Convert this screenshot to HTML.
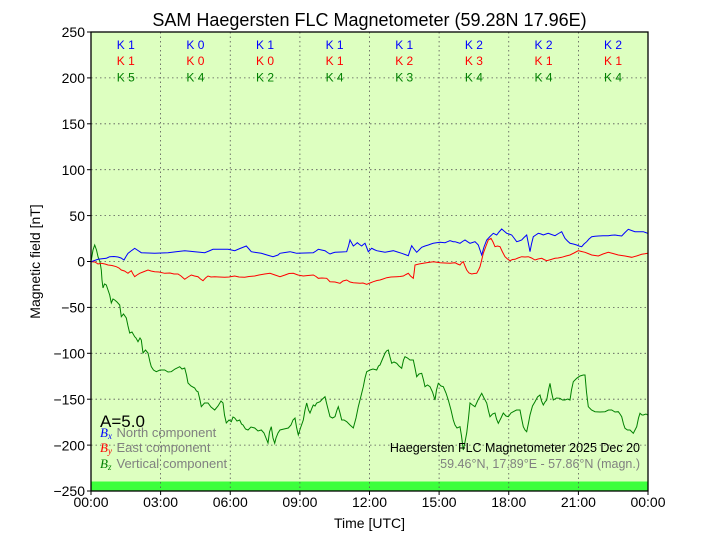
<!DOCTYPE html>
<html><head><meta charset="utf-8"><style>
html,body{margin:0;padding:0;background:#fff;}
svg{display:block;}
text{font-family:"Liberation Sans",Arial,sans-serif;}
</style></head><body>
<svg width="720" height="540" viewBox="0 0 720 540" xmlns="http://www.w3.org/2000/svg">
<rect x="0" y="0" width="720" height="540" fill="#fff"/>
<rect x="91" y="32" width="557" height="459" fill="#ddffc0"/>
<rect x="91" y="481.5" width="557" height="9.5" fill="#3cff3c"/>
<g stroke="#555" stroke-width="0.8" stroke-dasharray="1.5,3" fill="none">
<line x1="160.6" y1="32" x2="160.6" y2="491"/>
<line x1="230.25" y1="32" x2="230.25" y2="491"/>
<line x1="299.9" y1="32" x2="299.9" y2="491"/>
<line x1="369.5" y1="32" x2="369.5" y2="491"/>
<line x1="439.1" y1="32" x2="439.1" y2="491"/>
<line x1="508.75" y1="32" x2="508.75" y2="491"/>
<line x1="578.4" y1="32" x2="578.4" y2="491"/>
<line x1="91" y1="77.9" x2="648" y2="77.9"/>
<line x1="91" y1="123.8" x2="648" y2="123.8"/>
<line x1="91" y1="169.7" x2="648" y2="169.7"/>
<line x1="91" y1="215.6" x2="648" y2="215.6"/>
<line x1="91" y1="261.5" x2="648" y2="261.5"/>
<line x1="91" y1="307.4" x2="648" y2="307.4"/>
<line x1="91" y1="353.3" x2="648" y2="353.3"/>
<line x1="91" y1="399.2" x2="648" y2="399.2"/>
<line x1="91" y1="445.1" x2="648" y2="445.1"/>
</g>
<!-- series -->
<polyline fill="none" stroke="#008000" stroke-width="1" points="91.3,260 93,250 94.7,245 96.5,250 98,256.7 100,262 101.3,270 102,280 103,288 104.5,284 106.3,285 108,290 109.7,295 111.3,303 113,299 114.7,300 117,302 119.7,305 121.3,316.7 123.5,314 126.3,318 128,326 129.7,333 132,332 134.7,336.7 136,338 138,341.7 140,338 141.3,340 143,353 145.5,350 148,353 150,362 151.3,366.7 153.5,370 156.3,371.7 160,370 164.7,370 168,372 171.3,371.7 175,369 179.7,366.7 182,369 184.7,368 186.5,375 188,383 191,386 194.7,388 196.5,391 198,391.7 200,400 201.3,406.7 204.5,403 208,403 211,407 214.7,410 218,406 221,401 223,403 224.5,415 226.3,423 229,420 231.3,421.7 233,417 234.7,418 237,421 239.7,420 241.5,424 243,425 245.5,429 248,430 251,427 254.7,428 258,431 261.3,430 264,433 266,438 268,443 269.5,432 271.3,426.7 273,438 274.7,443.3 276,438 278,433 280,430 284,429 288.3,428 291,425 293,420 295,418 296.5,427 298.3,435 300.5,428 303.3,420 305,410 306.7,403 308.5,410 310,413 312,408 313.3,405 315,406 316.7,403 320,401.7 322.5,399 325,396.7 327,405 330,416.7 332.5,418 335,416.7 337,410 338.3,406.7 340,413 341.7,420 344,420 346.7,421.7 350,425 353.3,428 356,418 358.3,406.7 361,396 363.3,386.7 365,378 366.7,371.7 370,370 373,369 376.7,370 378.5,366 380,365 382.5,359 385,353.3 386.5,351 388.3,350 390,357 391.7,363.3 394,362 396.7,363.3 399,366 401.7,368.3 403.5,360 405,356.7 407.5,358 410,360 413.3,360 415,368 416.7,376.7 419,374 421.7,373.3 423.5,380 425,386.7 427.5,385 430,386.7 432.5,392 435,400 436.5,390 438.3,383.3 441,386 443.3,386.7 446,393 448.3,400 451,410 453.3,420 455,425 457,428 460,426.7 461.5,436 463.3,450 465,442 466.7,433 468.5,418 470,403 472.5,405 475,406.7 478,400 481.7,393.3 484,398 486.7,403 488.5,411 490,416.7 492.5,414 495,413 496.5,419 498.3,423.3 501,418 503.3,413 506,416 508.3,416.7 511,413 513.3,411.7 516.5,410 520,410 521.5,418 523.3,426.7 525,430 526.7,431.7 528.5,423 530,415 532.5,406 535,401.7 537.5,397 540,395 541.5,401 543.3,405 545,402 546.7,400 548.5,390 550,383.3 551.5,392 553.3,400 556.5,398 560,398.3 562.5,400 565,400 567.5,399 570,400 571.5,390 573.3,381.7 575,380 576.7,378.3 580,376 583.3,375 585,375 586.5,392 588.3,406.7 591.5,410 595,411.7 600,412 605,411.7 608.5,410 611.7,410 615,412 618.3,411.7 620,414 621.7,416.7 623.5,424 625,428.3 627.5,430 630,430 632,432 633.3,433.3 635,430 636.7,426.7 638.5,418 640,413.3 642,415 643.3,415 646,414 647.7,415"/>
<polyline fill="none" stroke="#ff0000" stroke-width="1" points="91.3,261.7 95,262 98,264 101.3,263.3 105,264 108,265 112,265.5 116.3,266.7 119,268 121.3,270 124.5,271 128,273.3 129.5,272 131.3,270.7 133,274 134.7,276.7 137,275 139.7,273.3 143,272 148,270 151,271 154.7,271.7 159,272 164.7,273.3 170,273 174,274 178,274 181,276 184.7,279.3 188,277 191.3,275 194.5,276 198,276.7 200.5,279 203,280.7 205.5,278 208,276 211,277 214.7,276.7 219,277 224.7,277.3 229,277 234.7,276 239,277 244.7,277.3 249,276.5 254.7,276 259,275 264.7,274 270,273.3 275,275 280,276.7 285,275 289,273.5 293.3,273.3 298,275 303.3,276 308,275.5 313.3,275 316,276.5 318.3,278.3 322,278 326.7,278.3 330,281.7 335,282 340,283.3 343,281 346.7,280 350,282 353.3,282.7 357,283 360,283.3 363,283 366.7,284.3 370,283 373.3,281.7 377,280.5 380,280 383,279 386.7,277.7 391,277 396.7,276.7 400,276.5 403.3,276 406,274.5 408.3,273.3 410.5,276 413.3,278.3 414.2,272 415,265 419,264 423.3,263.3 428,262.5 433.3,261.7 437,262.2 440,262.7 445,263 450,263.3 455,262.7 457.5,264 460,265 461.5,263 463.3,261.7 465,266 466.7,270 469,273 471.7,274 474,273.5 476.7,273.3 478.5,270 480,266.7 481.7,260 483.3,253.3 486,246 488.3,240 491,238.3 493,242 495,246.7 497.5,246 500,246.7 502.5,252 505,256.7 507.5,259 510,260.7 512.5,259.5 515,259.3 518,258 521.7,256.7 525,257 528.3,256.7 531.5,258 535,260 538,259 541.7,258.3 544,259.5 546.7,260.7 551,259.5 555,258.3 558,258 561.7,257.3 566,256 570,255 574,253 578.3,250.7 581.5,251.5 585,252.3 588,253.5 591.7,255 595,255.5 598.3,256 603,254 608.3,252.3 613,253.5 618.3,255 625,256 631.7,257.3 636.5,256 641.7,254.3 645,253.8 647.7,253.3"/>
<polyline fill="none" stroke="#0000ff" stroke-width="1" points="91.3,261.7 94.5,260.5 98,259.3 102,258.8 106.3,258.3 108,257.5 109.7,256.7 114,256.5 118,257 121,258 124,260 126,256.5 128,253.3 131,251 134.7,248.3 138,250.5 141.3,252.7 148,253 154.7,253.3 161,253 168,252.7 176,251.7 184.7,250.7 190,251.2 194.7,251.7 200,252.2 204.7,252.7 209,251 213,249.3 220,249.3 228,249.3 231.5,250 234.7,250.7 240,248.5 246.3,246 249,249 251.3,251.7 256,252.5 261.3,253.3 267,255 273,256.7 278,255 280,253.3 285,252.5 290,251.7 293.5,252.5 296.7,253.3 305,253 313.3,252.7 316,251 318.3,249.3 321.5,250 325,250.7 327.5,252.5 330,254 332.5,253 335,252.3 341,252 346.7,251.7 348.5,246 350,240 351.7,243 353.3,246 355.3,244.5 357.3,242.7 359.5,244.5 361.7,246 363.3,244.5 365,243.3 366.7,247.5 368.3,251.7 370,250 371.7,248.3 374,249.5 376.7,250.7 381,251.5 385,252.3 389,251.5 393.3,250.7 397.5,252 401.7,253.3 405,254.5 408.3,255.7 410,250.5 411.7,245.7 414,249 416.7,252.3 419,250 421.7,247.3 425,246 428.3,245 431,244 433.3,243.3 436.5,242.8 440,242.3 442.5,242.5 445,242.7 447.5,241.7 450,240.7 453.3,241.7 455,241.7 457.5,242.5 460,243.3 462.5,241.5 465,240 467.5,241.7 470,243.3 472.5,242.5 475,241.7 476.7,243.3 478.3,245 480,250 481.7,255 484,247 486.7,240 490,236.5 493.3,233.3 496.7,235 499,232 501.7,229 504,231 506.7,233.3 509,234 511.7,235 514,238 516.7,241.7 519,241 521.7,240 524,237.5 526.7,235 528.3,243 530,251.7 531.5,244 533.3,236.7 535.8,235 538.3,233.3 541,234 543.3,235 546,234 548.3,233.3 551.5,234.5 555,235.7 558.5,233.5 561.7,231.7 563.3,235 565,238.3 567.5,241 570,243.3 573.3,244 576.7,245 579,246 581.7,246.7 584,244 586.7,241.7 589,239 591.7,236.7 595,236.3 598.3,236 603,235.8 608.3,235.7 611.5,235.3 615,235 618,235.5 621.7,236 625,232.5 628.3,229.3 631.5,230.5 635,231.7 639,231.7 643.3,231.7 645.5,232.5 647.7,233.3"/>
<!-- axes frame -->
<rect x="91" y="32" width="557" height="459" fill="none" stroke="#000" stroke-width="1.3"/>
<g stroke="#000" stroke-width="1">
<line x1="87" y1="32" x2="91" y2="32"/><line x1="87" y1="77.9" x2="91" y2="77.9"/><line x1="87" y1="123.8" x2="91" y2="123.8"/><line x1="87" y1="169.7" x2="91" y2="169.7"/><line x1="87" y1="215.6" x2="91" y2="215.6"/><line x1="87" y1="261.5" x2="91" y2="261.5"/><line x1="87" y1="307.4" x2="91" y2="307.4"/><line x1="87" y1="353.3" x2="91" y2="353.3"/><line x1="87" y1="399.2" x2="91" y2="399.2"/><line x1="87" y1="445.1" x2="91" y2="445.1"/><line x1="87" y1="491" x2="91" y2="491"/>
<line x1="91" y1="491" x2="91" y2="495"/><line x1="160.6" y1="491" x2="160.6" y2="495"/><line x1="230.25" y1="491" x2="230.25" y2="495"/><line x1="299.9" y1="491" x2="299.9" y2="495"/><line x1="369.5" y1="491" x2="369.5" y2="495"/><line x1="439.1" y1="491" x2="439.1" y2="495"/><line x1="508.75" y1="491" x2="508.75" y2="495"/><line x1="578.4" y1="491" x2="578.4" y2="495"/><line x1="648" y1="491" x2="648" y2="495"/>
</g>
<!-- y tick labels -->
<g font-size="14" text-anchor="end" fill="#000">
<text x="85" y="37">250</text><text x="85" y="83">200</text><text x="85" y="129">150</text><text x="85" y="175">100</text><text x="85" y="221">50</text><text x="85" y="266.5">0</text><text x="85" y="312.5">−50</text><text x="85" y="358.5">−100</text><text x="85" y="404.5">−150</text><text x="85" y="450.5">−200</text><text x="85" y="496">−250</text>
</g>
<g font-size="14" text-anchor="middle" fill="#000">
<text x="91" y="507">00:00</text><text x="160.6" y="507">03:00</text><text x="230.25" y="507">06:00</text><text x="299.9" y="507">09:00</text><text x="369.5" y="507">12:00</text><text x="439.1" y="507">15:00</text><text x="508.75" y="507">18:00</text><text x="578.4" y="507">21:00</text><text x="648" y="507">00:00</text>
<text x="369.5" y="528">Time [UTC]</text>
<text x="369.5" y="26" font-size="18">SAM Haegersten FLC Magnetometer (59.28N 17.96E)</text>
</g>
<text x="40" y="261.5" font-size="14" text-anchor="middle" transform="rotate(-90 40 261.5)">Magnetic field [nT]</text>
<!-- K indices -->
<g font-size="12" text-anchor="middle">
<g fill="#0000ff"><text x="125.8" y="49">K 1</text><text x="195.4" y="49">K 0</text><text x="265" y="49">K 1</text><text x="334.6" y="49">K 1</text><text x="404.2" y="49">K 1</text><text x="473.9" y="49">K 2</text><text x="543.5" y="49">K 2</text><text x="613" y="49">K 2</text></g>
<g fill="#ff0000"><text x="125.8" y="65">K 1</text><text x="195.4" y="65">K 0</text><text x="265" y="65">K 0</text><text x="334.6" y="65">K 1</text><text x="404.2" y="65">K 2</text><text x="473.9" y="65">K 3</text><text x="543.5" y="65">K 1</text><text x="613" y="65">K 1</text></g>
<g fill="#008000"><text x="125.8" y="81.5">K 5</text><text x="195.4" y="81.5">K 4</text><text x="265" y="81.5">K 2</text><text x="334.6" y="81.5">K 4</text><text x="404.2" y="81.5">K 3</text><text x="473.9" y="81.5">K 4</text><text x="543.5" y="81.5">K 4</text><text x="613" y="81.5">K 4</text></g>
</g>
<!-- A and legend -->
<text x="100" y="427" font-size="17" fill="#000">A=5.0</text>
<g font-size="13" fill="#808080">
<text x="100" y="437"><tspan font-family="Liberation Serif,serif" font-style="italic" fill="#0000ff">B<tspan font-size="9" dy="2">x</tspan></tspan><tspan dy="-2" x="116.5">North component</tspan></text>
<text x="100" y="452"><tspan font-family="Liberation Serif,serif" font-style="italic" fill="#ff0000">B<tspan font-size="9" dy="2">y</tspan></tspan><tspan dy="-2" x="116.5">East component</tspan></text>
<text x="100" y="468"><tspan font-family="Liberation Serif,serif" font-style="italic" fill="#008000">B<tspan font-size="9" dy="2">z</tspan></tspan><tspan dy="-2" x="116.5">Vertical component</tspan></text>
</g>
<text x="640" y="452" font-size="12.5" text-anchor="end" fill="#000">Haegersten FLC Magnetometer 2025 Dec 20</text>
<text x="640" y="468" font-size="12.5" text-anchor="end" fill="#808080">59.46°N, 17.89°E - 57.86°N (magn.)</text>
</svg>
</body></html>
